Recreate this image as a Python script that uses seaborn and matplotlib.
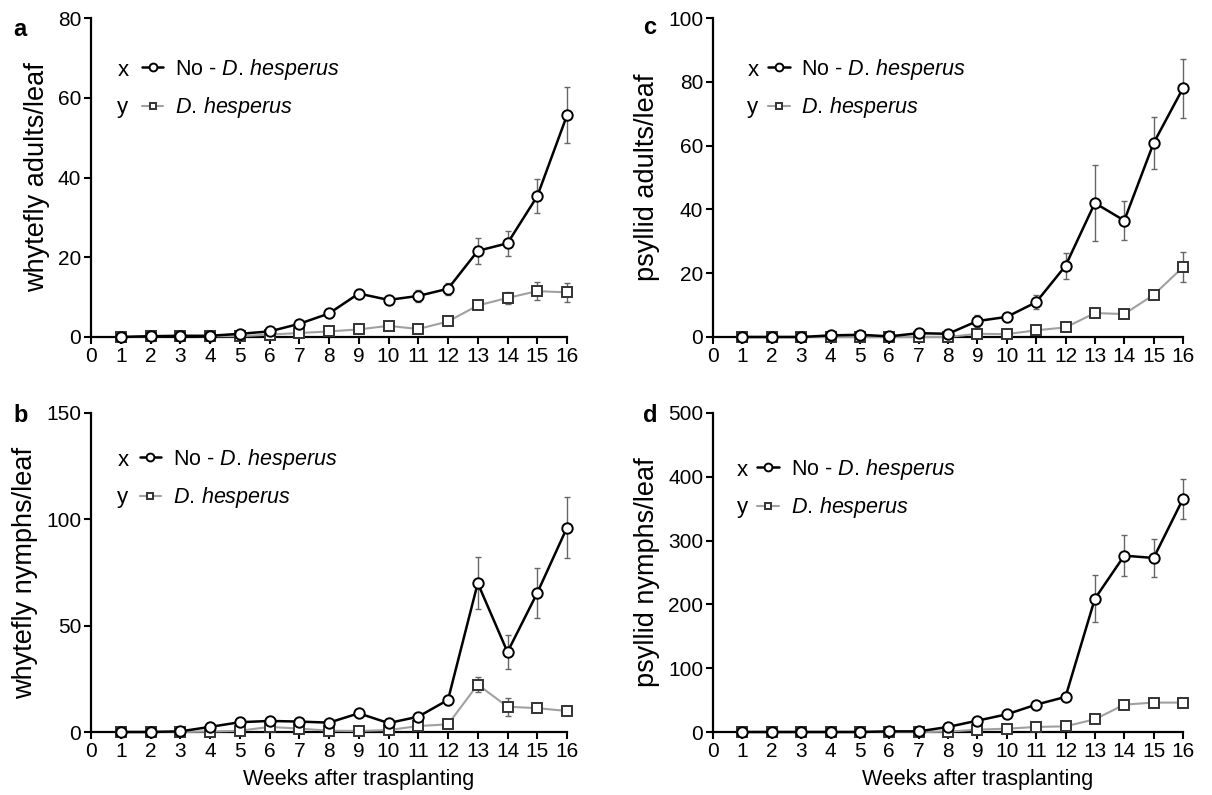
import matplotlib
matplotlib.use("Agg")
import matplotlib.pyplot as plt
import seaborn as sns

# weeks after transplanting
weeks = [1, 2, 3, 4, 5, 6, 7, 8, 9, 10, 11, 12, 13, 14, 15, 16]

# a - whytefly adults/leaf
wf_adults_no = [0, 0.2, 0.3, 0.3, 0.8, 1.4, 3.3, 5.9, 10.9, 9.3, 10.3, 12.1, 21.6, 23.5, 35.3, 55.6]
wf_adults_no_err = [0, 0, 0.1, 0.1, 0.2, 0.4, 0.5, 0.6, 1.1, 0.8, 1.4, 1.5, 3.2, 3.1, 4.2, 7.0]
wf_adults_dh = [0, 0.2, 0.3, 0.2, 0.2, 0.6, 1.0, 1.4, 1.9, 2.8, 2.0, 3.9, 7.9, 9.8, 11.5, 11.2]
wf_adults_dh_err = [0, 0, 0, 0, 0.1, 0.2, 0.3, 0.3, 0.4, 0.5, 0.4, 0.6, 0.8, 1.5, 2.2, 2.4]

# b - whytefly nymphs/leaf
wf_nymphs_no = [0, 0, 0.3, 2.4, 4.6, 5.2, 4.9, 4.4, 8.8, 4.2, 7.2, 15.1, 70.0, 37.6, 65.4, 96.1]
wf_nymphs_no_err = [0, 0, 0.2, 0.6, 0.8, 0.8, 0.8, 0.8, 1.0, 1.0, 1.2, 2.2, 12.1, 7.9, 11.6, 14.4]
wf_nymphs_dh = [0, 0, 0, 0.2, 0.6, 2.4, 1.6, 0.6, 0.5, 0.9, 2.8, 3.6, 22.3, 11.9, 11.2, 9.9]
wf_nymphs_dh_err = [0, 0, 0, 0.2, 0.3, 0.6, 0.5, 0.3, 0.2, 0.4, 0.8, 0.8, 3.5, 4.2, 1.2, 1.2]

# c - psyllid adults/leaf
ps_adults_no = [0, 0, 0, 0.5, 0.7, 0.2, 1.2, 1.0, 5.0, 6.3, 10.9, 22.3, 42.0, 36.5, 60.8, 78.0]
ps_adults_no_err = [0, 0, 0, 0.3, 0.4, 0.2, 0.5, 0.4, 1.8, 0.8, 2.2, 4.0, 11.9, 6.0, 8.1, 9.3]
ps_adults_dh = [0, 0, 0, 0, 0, 0, 0, 0, 1.0, 0.9, 2.1, 3.0, 7.5, 7.2, 13.2, 21.9]
ps_adults_dh_err = [0, 0, 0, 0, 0, 0, 0, 0, 0.3, 0.3, 0.5, 0.6, 1.0, 1.0, 1.2, 4.7]

# d - psyllid nymphs/leaf
ps_nymphs_no = [0, 0, 0, 0, 0, 1, 1, 7.9, 17.8, 27.7, 42.9, 55.0, 208.9, 276.4, 272.8, 365.4]
ps_nymphs_no_err = [0, 0, 0, 0, 0, 0.5, 0.5, 2, 3, 4, 5, 5, 37, 32, 30, 31]
ps_nymphs_dh = [0, 0, 0, 0, 0, 0, 0, 0.5, 3.7, 5.2, 7.9, 8.9, 19.9, 42.9, 46.1, 46.1]
ps_nymphs_dh_err = [0, 0, 0, 0, 0, 0, 0, 0.5, 1, 1.5, 2, 2, 4, 6, 3, 3]

sns.set_style("ticks")
plt.rcParams["font.family"] = ["Liberation Sans", "DejaVu Sans"]
plt.rcParams["text.color"] = "black"
plt.rcParams["axes.labelcolor"] = "black"
plt.rcParams["xtick.color"] = "black"
plt.rcParams["ytick.color"] = "black"
plt.rcParams["axes.edgecolor"] = "black"
plt.rcParams["mathtext.fontset"] = "custom"
plt.rcParams["mathtext.rm"] = "Liberation Sans"
plt.rcParams["mathtext.it"] = "Liberation Sans:italic"

fig = plt.figure(figsize=(12.12, 7.95), dpi=100)
W, H = 1212, 795


def make_axes(left, top, right, bottom):
    return fig.add_axes([left / W, 1 - bottom / H, (right - left) / W, (bottom - top) / H])


panels = [
    dict(box=(91, 18, 567, 337), letter="a", lpos=(13, 29),
         no=wf_adults_no, no_err=wf_adults_no_err, dh=wf_adults_dh, dh_err=wf_adults_dh_err,
         ymax=80, ystep=20, ylabel="whytefly adults/leaf", xlabel=False,
         xy_text=0.067, xy_leg=0.107, rows=(0.837, 0.721)),
    dict(box=(91, 413, 567, 732), letter="b", lpos=(13, 416),
         no=wf_nymphs_no, no_err=wf_nymphs_no_err, dh=wf_nymphs_dh, dh_err=wf_nymphs_dh_err,
         ymax=150, ystep=50, ylabel="whytefly nymphs/leaf", xlabel=True,
         xy_text=0.067, xy_leg=0.102, rows=(0.853, 0.737)),
    dict(box=(713, 18, 1183, 337), letter="c", lpos=(643, 27),
         no=ps_adults_no, no_err=ps_adults_no_err, dh=ps_adults_dh, dh_err=ps_adults_dh_err,
         ymax=100, ystep=20, ylabel="psyllid adults/leaf", xlabel=False,
         xy_text=0.085, xy_leg=0.117, rows=(0.837, 0.721)),
    dict(box=(713, 413, 1183, 732), letter="d", lpos=(643, 416),
         no=ps_nymphs_no, no_err=ps_nymphs_no_err, dh=ps_nymphs_dh, dh_err=ps_nymphs_dh_err,
         ymax=500, ystep=100, ylabel="psyllid nymphs/leaf", xlabel=True,
         xy_text=0.062, xy_leg=0.094, rows=(0.822, 0.705)),
]

lab_no = r"No - $\it{D.\,hesperus}$"
lab_dh = r"$\it{D.\,hesperus}$"

for p in panels:
    ax = make_axes(*p["box"])
    # error bars first, lines on top
    ax.errorbar(weeks, p["dh"], yerr=p["dh_err"], fmt="none", ecolor="#666666",
                elinewidth=1, capsize=2, capthick=1, clip_on=False, label="_nolegend_")
    ax.errorbar(weeks, p["no"], yerr=p["no_err"], fmt="none", ecolor="#666666",
                elinewidth=1, capsize=2, capthick=1, clip_on=False, label="_nolegend_")
    sns.lineplot(x=weeks, y=p["dh"], ax=ax, color="#a0a0a0", linewidth=1.5,
                 marker="s", markersize=6.5, markerfacecolor="white",
                 markeredgecolor="#333333", markeredgewidth=1.4,
                 label=lab_dh, clip_on=False, zorder=3)
    sns.lineplot(x=weeks, y=p["no"], ax=ax, color="black", linewidth=1.8,
                 marker="o", markersize=7.5, markerfacecolor="white",
                 markeredgecolor="black", markeredgewidth=1.4,
                 label=lab_no, clip_on=False, zorder=4)

    ax.set_xlim(0, 16)
    ax.set_ylim(0, p["ymax"])
    ax.set_xticks(range(0, 17))
    ax.set_yticks(range(0, p["ymax"] + 1, p["ystep"]))
    ax.tick_params(labelsize=15, direction="out", length=5, width=1.5, pad=2)
    for s in ["left", "bottom"]:
        ax.spines[s].set_linewidth(1.6)
    sns.despine(ax=ax)

    ax.set_ylabel(p["ylabel"], fontsize=19.5, labelpad=6)
    if p["xlabel"]:
        ax.set_xlabel("Weeks after trasplanting", fontsize=15.5)
        ax.xaxis.set_label_coords(0.563, -0.115)
    else:
        ax.set_xlabel("")

    handles, labels = ax.get_legend_handles_labels()
    order = [labels.index(lab_no), labels.index(lab_dh)]
    ax.legend([handles[i] for i in order], [labels[i] for i in order],
              loc="center left", bbox_to_anchor=(p["xy_leg"], sum(p["rows"]) / 2),
              frameon=False, fontsize=15.5, handlelength=1.0, handletextpad=0.55,
              borderpad=0, borderaxespad=0, labelspacing=0.62, markerscale=0.75)
    for row, ch in zip(p["rows"], ["x", "y"]):
        ax.text(p["xy_text"], row - 0.018, ch, transform=ax.transAxes, fontsize=16,
                ha="center", va="baseline")

    fig.text(p["lpos"][0] / W, 1 - p["lpos"][1] / H, p["letter"], fontsize=17,
             fontweight="bold", ha="left", va="center")

fig.savefig("out.png", dpi=100)
